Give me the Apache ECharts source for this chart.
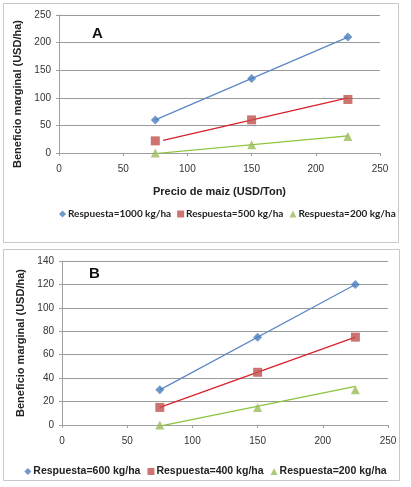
<!DOCTYPE html>
<html>
<head>
<meta charset="utf-8">
<script src="https://cdn.jsdelivr.net/npm/echarts@6/dist/echarts.min.js"></script>
<style>
  html, body { margin: 0; padding: 0; background: #fff; }
  #main { width: 411px; height: 487px; }
</style>
</head>
<body>
<div id="main"></div>
<script>
// precio de maiz (USD/Ton)
var xPrecio = [75, 150, 225];

// panel A
var aResp1000 = [60, 135, 210];
var aResp500 = [22, 60, 97];
var aResp200 = [0, 15, 30];
// trend lines A, endpoints
var aTrendX = [75, 225];
var aTrend1000 = [60, 210];
var aTrend500X = [81, 225];
var aTrend500 = [23, 100];
var aTrend200 = [-1, 31];

// panel B
var bResp600 = [30, 75, 120];
var bResp400 = [15, 45, 75];
var bResp200 = [0, 15, 30];
var bTrendX = [75, 225];
var bTrend600 = [30, 120];
var bTrend400 = [15, 75];
var bTrend200 = [-1, 33];

var namesA = ['Respuesta=1000 kg/ha', 'Respuesta=500 kg/ha', 'Respuesta=200 kg/ha'];
var namesB = ['Respuesta=600 kg/ha', 'Respuesta=400 kg/ha', 'Respuesta=200 kg/ha'];

var blue = '#4A7EBB', red = '#C0504D', green = '#9BBB59';
var blueLine = '#5B87C5', redLine = '#D8202A', greenLine = '#8CC43C';

function pts(xs, ys) {
    return xs.map(function (x, i) { return [x, ys[i]]; });
}

function scatter(name, idx, data, symbol, color, size) {
    return {
        name: name,
        type: 'scatter',
        xAxisIndex: idx,
        yAxisIndex: idx,
        data: data,
        symbol: symbol,
        symbolSize: size,
        itemStyle: { color: color },
        z: 3
    };
}

function trend(idx, data, color) {
    return {
        type: 'line',
        xAxisIndex: idx,
        yAxisIndex: idx,
        data: data,
        symbol: 'none',
        lineStyle: { color: color, width: 1.2 },
        silent: true,
        z: 2
    };
}

var axisTxt = { color: '#333', fontFamily: 'Liberation Sans', fontSize: 10 };

function xAxis(idx, name) {
    return {
        type: 'value',
        gridIndex: idx,
        min: 0, max: 250, interval: 50,
        name: name,
        nameLocation: 'middle',
        nameGap: 33,
        nameTextStyle: { color: '#222', fontFamily: 'Liberation Sans', fontWeight: 'bold', fontSize: 11 },
        axisLine: { show: true, lineStyle: { color: '#A0A0A0' } },
        axisTick: { show: true, length: 3, lineStyle: { color: '#A0A0A0' } },
        axisLabel: Object.assign({ margin: 11 }, axisTxt),
        splitLine: { show: false }
    };
}

function yAxis(idx, max, interval, gap, pad) {
    return {
        type: 'value',
        gridIndex: idx,
        min: 0, max: max, interval: interval,
        name: 'Beneficio marginal (USD/ha)',
        nameLocation: 'middle',
        nameGap: gap,
        nameTextStyle: { color: '#222', fontFamily: 'Liberation Sans', fontWeight: 'bold', fontSize: 11, padding: pad },
        axisLine: { show: true, lineStyle: { color: '#A0A0A0' } },
        axisTick: { show: true, length: 3, lineStyle: { color: '#A0A0A0' } },
        axisLabel: Object.assign({ margin: 8 }, axisTxt),
        splitLine: { show: true, lineStyle: { color: '#9A9A9A', width: 1 } }
    };
}

var myChart = echarts.init(document.getElementById('main'));
var option = {
    animation: false,
    backgroundColor: '#fff',
    grid: [
        { left: 59, right: 31, top: 15, height: 138 },
        { left: 62, right: 23, top: 261, height: 164 }
    ],
    xAxis: [xAxis(0, 'Precio de maiz (USD/Ton)'), xAxis(1, '')],
    yAxis: [yAxis(0, 250, 50, 28, [0, 20, 0, 0]), yAxis(1, 140, 20, 34, 0)],
    legend: [
        {
            top: 204, left: 54,
            itemWidth: 7, itemHeight: 7, itemGap: 6,
            textStyle: { color: '#222', fontFamily: 'Lato', fontWeight: 'bold', fontSize: 10, padding: [0, 0, 0, -3] },
            data: [
                { name: namesA[0], icon: 'diamond' },
                { name: namesA[1], icon: 'rect' },
                { name: namesA[2], icon: 'triangle' }
            ]
        },
        {
            top: 461, left: 'center',
            itemWidth: 7, itemHeight: 7, itemGap: 7,
            textStyle: { color: '#222', fontFamily: 'Liberation Sans', fontWeight: 'bold', fontSize: 10.5, padding: [0, 0, 0, -3] },
            data: [
                { name: namesB[0], icon: 'diamond' },
                { name: namesB[1], icon: 'rect' },
                { name: namesB[2], icon: 'triangle' }
            ]
        }
    ],
    graphic: [
        { type: 'rect', shape: { x: 3.5, y: 3.5, width: 395, height: 239 }, style: { fill: 'none', stroke: '#C8C8C8', lineWidth: 1 }, z: -1 },
        { type: 'rect', shape: { x: 3.5, y: 249.5, width: 396, height: 231 }, style: { fill: 'none', stroke: '#C8C8C8', lineWidth: 1 }, z: -1 },
        { type: 'text', left: 92, top: 26, style: { text: 'A', font: 'bold 15px "Liberation Sans"', fill: '#111' } },
        { type: 'text', left: 89, top: 266, style: { text: 'B', font: 'bold 15px "Liberation Sans"', fill: '#111' } }
    ],
    series: [
        trend(0, pts(aTrendX, aTrend1000), blueLine),
        trend(0, pts(aTrend500X, aTrend500), redLine),
        trend(0, pts(aTrendX, aTrend200), greenLine),
        scatter(namesA[0], 0, pts(xPrecio, aResp1000), 'diamond', blue, 9),
        scatter(namesA[1], 0, pts(xPrecio, aResp500), 'rect', red, 9),
        scatter(namesA[2], 0, pts(xPrecio, aResp200), 'triangle', green, 9),
        trend(1, pts(bTrendX, bTrend600), blueLine),
        trend(1, pts(bTrendX, bTrend400), redLine),
        trend(1, pts(bTrendX, bTrend200), greenLine),
        scatter(namesB[0], 1, pts(xPrecio, bResp600), 'diamond', blue, 9),
        scatter(namesB[1], 1, pts(xPrecio, bResp400), 'rect', red, 9),
        scatter(namesB[2], 1, pts(xPrecio, bResp200), 'triangle', green, 9)
    ]
};
myChart.setOption(option);
</script>
</body>
</html>
